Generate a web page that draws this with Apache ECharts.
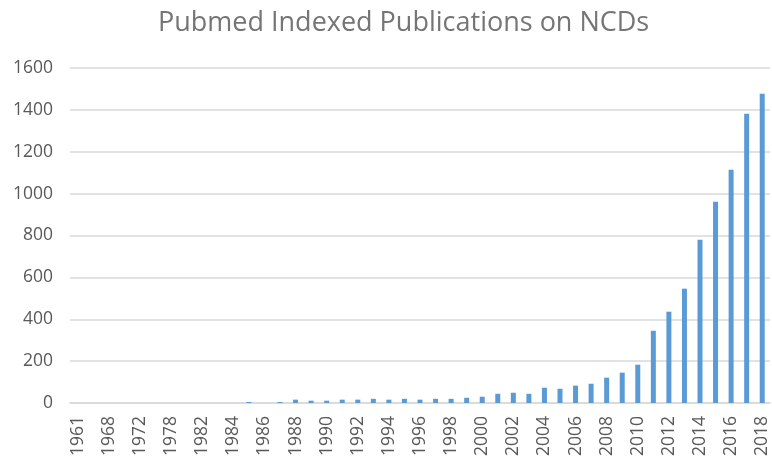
<!DOCTYPE html>
<html>
<head>
<meta charset="utf-8">
<script src="https://cdn.jsdelivr.net/npm/echarts@6/dist/echarts.min.js"></script>
<style>
  html, body { margin: 0; padding: 0; background: #fff; }
  #chart { width: 772px; height: 461px; }
</style>
</head>
<body>
<div id="chart"></div>
<script>
  // years (only every other one is labelled on the axis)
  var years = ['1961', '1964', '1968', '1970', '1972', '1975', '1978', '1980', '1982', '1983',
    '1984', '1985', '1986', '1987', '1988', '1989', '1990', '1991', '1992', '1993',
    '1994', '1995', '1996', '1997', '1998', '1999', '2000', '2001', '2002', '2003',
    '2004', '2005', '2006', '2007', '2008', '2009', '2010', '2011', '2012', '2013',
    '2014', '2015', '2016', '2017', '2018'];
  var publications = [0, 0, 0, 0, 0, 0, 0, 0, 0, 0,
    0, 5, 0, 5, 16, 11, 11, 16, 16, 20,
    16, 20, 16, 20, 20, 25, 30, 44, 49, 44,
    73, 68, 83, 92, 121, 145, 183, 345, 436, 546,
    780, 961, 1114, 1382, 1477];
  var yTicks = { min: 0, max: 1600, interval: 200 };

  var chart = echarts.init(document.getElementById('chart'));
  chart.setOption({
    animation: false,
    title: {
      text: 'Pubmed Indexed Publications on NCDs',
      left: 153,
      top: 5,
      textStyle: {
        fontFamily: 'Open Sans',
        fontSize: 27,
        fontWeight: 'normal',
        color: '#757575'
      }
    },
    grid: {
      left: 70,
      right: 2,
      top: 68,
      bottom: 58
    },
    xAxis: {
      type: 'category',
      data: years,
      axisLine: { lineStyle: { color: '#d9d9d9', width: 1.5 } },
      axisTick: { show: false },
      axisLabel: {
        interval: 1,
        rotate: 90,
        margin: 13,
        color: '#595959',
        fontFamily: 'Open Sans',
        fontSize: 17.5
      }
    },
    yAxis: {
      type: 'value',
      min: yTicks.min,
      max: yTicks.max,
      interval: yTicks.interval,
      axisLine: { show: false },
      axisTick: { show: false },
      splitLine: { lineStyle: { color: '#d9d9d9', width: 1.5 } },
      axisLabel: {
        margin: 17,
        color: '#595959',
        fontFamily: 'Open Sans',
        fontSize: 17.5,
        formatter: function (v) { return String(v); }
      }
    },
    series: [{
      type: 'bar',
      data: publications,
      barWidth: 5,
      itemStyle: { color: '#5b9bd5' }
    }]
  });
</script>
</body>
</html>
